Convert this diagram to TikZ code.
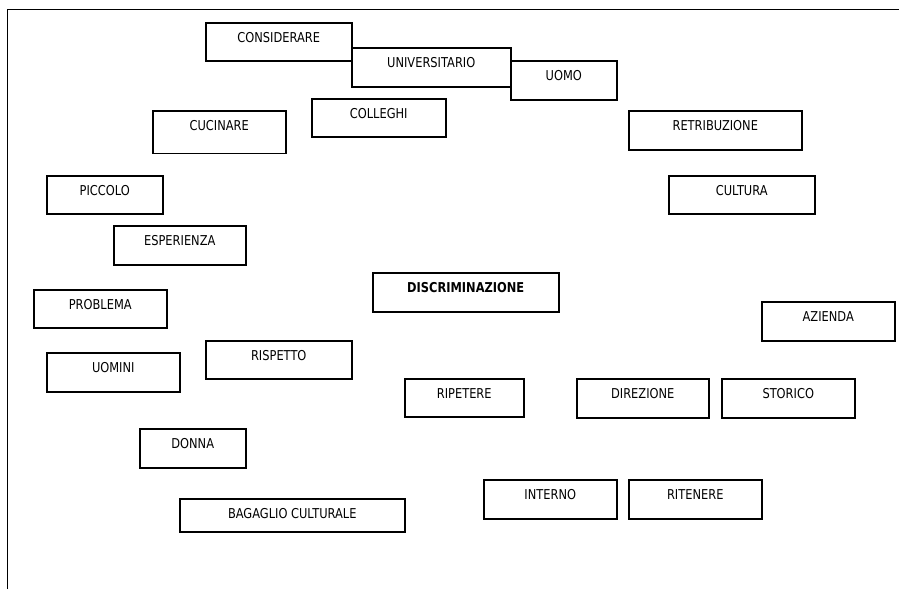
\documentclass[tikz,border=0pt]{standalone}
\usepackage{fontspec}
\setmainfont{DejaVu Sans}[FakeStretch=0.84]
\tikzset{
  wordbox/.style={draw, line width=1.5pt, inner sep=0pt, anchor=north west, text height=20pt},
}
\begin{document}
\begin{tikzpicture}[x=1pt,y=-1pt,font=\fontsize{13.6}{15}\selectfont,line join=miter]
			\useasboundingbox (0,0) rectangle (899,589);
			% cornice
			\coordinate (fbl) at (7.5,589);
			\coordinate (ftl) at (7.5,9.5);
			\coordinate (ftr) at (899,9.5);
			\draw[line width=1.5pt] (fbl)--(ftl)--(ftr);
			% parole
			\node[wordbox, minimum width=146pt, text depth=18pt] (considerare) at (205,22) {CONSIDERARE};
			\node[wordbox, minimum width=159pt, text depth=19pt] (universitario) at (351,47) {UNIVERSITARIO};
			\node[wordbox, minimum width=106pt, text depth=19pt] (uomo) at (510,60) {UOMO};
			\node[wordbox, minimum width=134pt, text depth=18pt] (colleghi) at (311,98) {COLLEGHI};
			\node[wordbox, minimum width=133pt, text depth=22.5pt] (cucinare) at (152,110) {CUCINARE};
			\node[wordbox, minimum width=173pt, text depth=19pt] (retribuzione) at (628,110) {RETRIBUZIONE};
			\node[wordbox, minimum width=116pt, text depth=18pt] (piccolo) at (46,175) {PICCOLO};
			\node[wordbox, minimum width=146pt, text depth=18pt] (cultura) at (668,175) {CULTURA};
			\node[wordbox, minimum width=132pt, text depth=19pt] (esperienza) at (113,225) {ESPERIENZA};
			\node[wordbox, minimum width=186pt, text depth=19pt] (discriminazione) at (372,272) {\bfseries DISCRIMINAZIONE};
			\node[wordbox, minimum width=133pt, text depth=18pt] (problema) at (33,289) {PROBLEMA};
			\node[wordbox, minimum width=133pt, text depth=19pt] (azienda) at (761,301) {AZIENDA};
			\node[wordbox, minimum width=146pt, text depth=18pt] (rispetto) at (205,340) {RISPETTO};
			\node[wordbox, minimum width=133pt, text depth=19pt] (uomini) at (46,352) {UOMINI};
			\node[wordbox, minimum width=119pt, text depth=18pt] (ripetere) at (404,378) {RIPETERE};
			\node[wordbox, minimum width=132pt, text depth=19pt] (direzione) at (576,378) {DIREZIONE};
			\node[wordbox, minimum width=133pt, text depth=19pt] (storico) at (721,378) {STORICO};
			\node[wordbox, minimum width=106pt, text depth=19pt] (donna) at (139,428) {DONNA};
			\node[wordbox, minimum width=133pt, text depth=19pt] (interno) at (483,479) {INTERNO};
			\node[wordbox, minimum width=133pt, text depth=19pt] (ritenere) at (628,479) {RITENERE};
			\node[wordbox, minimum width=225pt, text depth=13pt] (bagaglio) at (179,498) {BAGAGLIO CULTURALE};
		\end{tikzpicture}
\end{document}
